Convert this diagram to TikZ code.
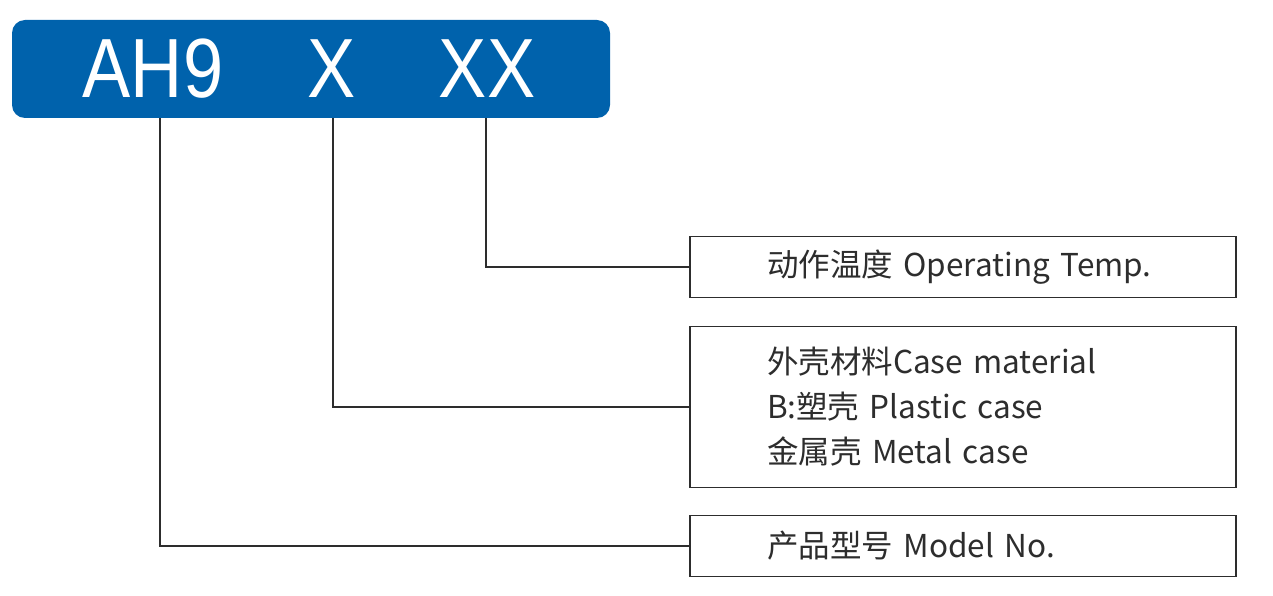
\documentclass[tikz,border=0pt]{standalone}
\usepackage{fontspec}
\newfontfamily\bannerfont[FakeStretch=0.86]{Liberation Sans}
\newfontfamily\labelfont{Noto Sans CJK SC}
\definecolor{bannerblue}{RGB}{0,98,172}
\definecolor{framegray}{RGB}{45,45,45}
\tikzset{
  codetext/.style={text=white, font=\bannerfont\fontsize{84}{84}\selectfont, inner sep=0pt},
  infobox/.style={draw=framegray, line width=1.6pt, minimum width=546pt, inner xsep=0pt,
    text width=392pt, align=left, text=framegray, font=\labelfont\fontsize{31.5}{45}\selectfont},
  leader/.style={draw=framegray, line width=1.5pt}
}
\begin{document}
\begin{tikzpicture}[x=1pt, y=-1pt] %1 unidade = 1 pixel
	\useasboundingbox (0,0) rectangle (1273,596);
		%Faixa azul com o codigo
	\fill[bannerblue, rounded corners=13pt] (12,20) rectangle (610,118);
	\node[codetext] (ah) at (153,69) {AH9};
	\node[codetext] (case) at (332,69) {X};
	\node[codetext] (temp) at (487,69) {XX};
	\coordinate (ahfoot) at (160,118);
	\coordinate (casefoot) at (333,118);
	\coordinate (tempfoot) at (486,118);
		%Caixas de descricao
	\node[infobox, minimum height=61pt] (tempbox) at (963,267) {动作温度 Operating Temp.};
	\node[infobox, minimum height=161pt] (casebox) at (963,407) {外壳材料Case material\\B:塑壳 Plastic case\\金属壳 Metal case};
	\node[infobox, minimum height=61pt] (modelbox) at (963,546) {产品型号 Model No.};
		%Linhas
	\draw[leader] (tempfoot) |- (tempbox.west);
	\draw[leader] (casefoot) |- (casebox.west);
	\draw[leader] (ahfoot) |- (modelbox.west);
\end{tikzpicture}
\end{document}
